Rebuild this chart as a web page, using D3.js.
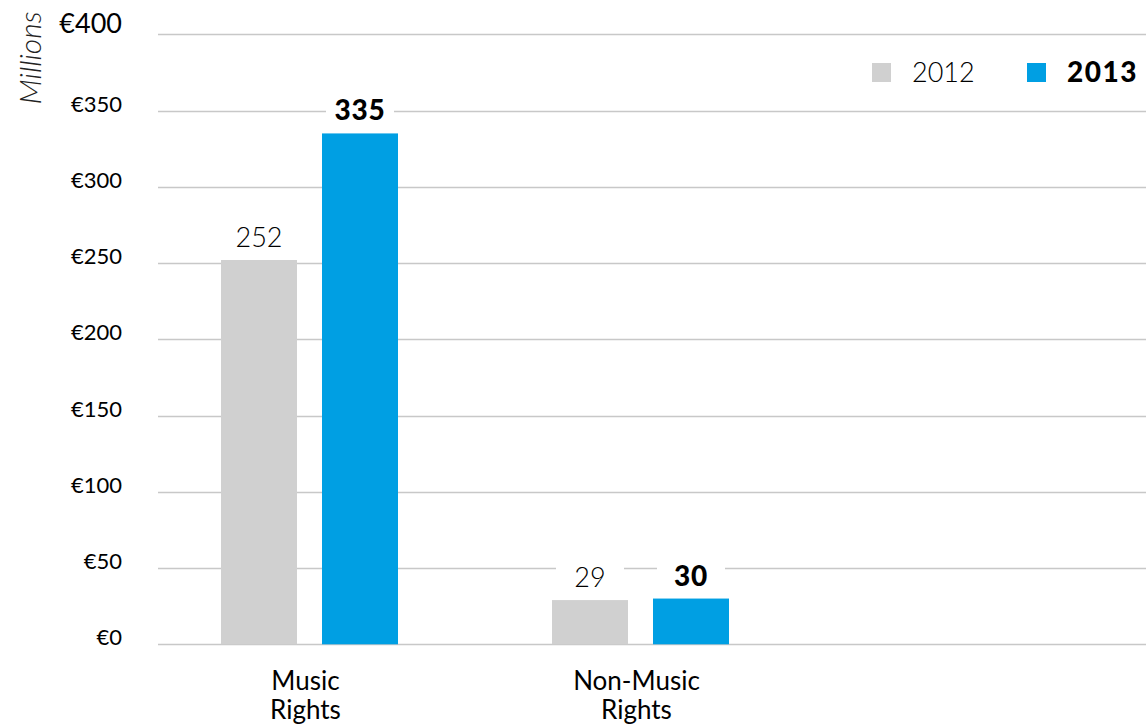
<!DOCTYPE html>
<html>
<head>
<meta charset="utf-8">
<script src="https://cdn.jsdelivr.net/npm/d3@7"></script>
<style>
  body { margin: 0; background: #fff; }
  svg { display: block; font-family: 'Lato', 'Noto Sans', sans-serif; }
</style>
</head>
<body>
<div id="chart"></div>
<script>
// data
const categories = [['Music', 'Rights'], ['Non-Music', 'Rights']];
const years = ['2012', '2013'];
const values2012 = [252, 29];
const values2013 = [335, 30];
const yTicks = [0, 50, 100, 150, 200, 250, 300, 350, 400];

const W = 1146, H = 726;
const MARGIN = { TOP: 34, BOTTOM: 82, LEFT: 158, RIGHT: 0 };
const COLORS = { '2012': '#d0d0d0', '2013': '#009fe3' };

const svg = d3.select('#chart').append('svg')
  .attr('width', W).attr('height', H);

const y = d3.scaleLinear().domain([0, 400]).range([H - MARGIN.BOTTOM + 0.3, MARGIN.TOP + 0.3]);

// categories sit in the left two thirds of the plot
const catKeys = categories.map(c => c.join(' '));
const x = d3.scaleBand().domain(catKeys).range([144, 806]);
const xInner = d3.scaleBand().domain(years).range([77, 254]).paddingInner(0.2475);

// grid
svg.append('g')
  .selectAll('line')
  .data(yTicks)
  .join('line')
  .attr('x1', MARGIN.LEFT).attr('x2', W)
  .attr('y1', d => Math.round(y(d)) + 0.5).attr('y2', d => Math.round(y(d)) + 0.5)
  .attr('stroke', '#c8c8c8').attr('stroke-width', 1.3);

// y tick labels (the top one is drawn larger)
svg.append('g')
  .selectAll('text')
  .data(yTicks)
  .join('text')
  .attr('x', 122)
  .attr('y', d => y(d) + (d === 400 ? -1 : 1))
  .attr('text-anchor', 'end')
  .attr('font-size', d => d === 400 ? 27 : 22)
  .attr('font-weight', 400)
  .attr('fill', '#000')
  .text(d => '€' + d);

svg.append('text')
  .attr('transform', 'translate(41,58) rotate(-90)')
  .attr('text-anchor', 'middle')
  .attr('font-size', 30)
  .attr('font-style', 'italic')
  .attr('font-weight', 300)
  .attr('fill', '#222')
  .text('Millions');

const rows = catKeys.map((k, i) => ({ key: k, vals: { '2012': values2012[i], '2013': values2013[i] } }));

const groups = svg.append('g')
  .selectAll('g')
  .data(rows)
  .join('g')
  .attr('transform', d => `translate(${x(d.key)},0)`);

groups.selectAll('rect')
  .data(d => years.map(yr => ({ yr, v: d.vals[yr] })))
  .join('rect')
  .attr('x', d => xInner(d.yr))
  .attr('width', xInner.bandwidth())
  .attr('y', d => y(d.v))
  .attr('height', d => y(0) - y(d.v))
  .attr('fill', d => COLORS[d.yr]);

// value labels with white backing so the grid breaks behind them
const labels = groups.selectAll('g.lbl')
  .data(d => years.map(yr => ({ yr, v: d.vals[yr] })))
  .join('g')
  .attr('class', 'lbl')
  .attr('transform', d => `translate(${xInner(d.yr) + xInner.bandwidth() / 2},${y(d.v) - 13})`);

labels.append('rect')
  .attr('x', -34).attr('width', 68)
  .attr('y', -24).attr('height', 26)
  .attr('fill', '#fff');

labels.append('text')
  .attr('text-anchor', 'middle')
  .attr('font-size', d => d.yr === '2013' ? 28 : 27)
  .attr('font-weight', d => d.yr === '2013' ? 900 : 300)
  .attr('letter-spacing', d => d.yr === '2013' ? 0.8 : 0)
  .attr('fill', '#000')
  .text(d => d.v);

// category labels
const cat = svg.append('g')
  .selectAll('text')
  .data(categories)
  .join('text')
  .attr('x', (d, i) => x(catKeys[i]) + x.bandwidth() / 2 - 4)
  .attr('y', 690)
  .attr('text-anchor', 'middle')
  .attr('font-size', 26)
  .attr('fill', '#000');
cat.selectAll('tspan')
  .data(d => d)
  .join('tspan')
  .attr('x', function () { return this.parentNode.getAttribute('x'); })
  .attr('dy', (d, i) => i === 0 ? 0 : 29)
  .text(d => d);

// legend
const legend = svg.append('g')
  .selectAll('g')
  .data(years)
  .join('g')
  .attr('transform', (d, i) => `translate(${872 + i * 155},63)`);
legend.append('rect')
  .attr('width', 19).attr('height', 19)
  .attr('fill', d => COLORS[d]);
legend.append('text')
  .attr('x', 40).attr('y', 19)
  .attr('font-size', d => d === '2013' ? 28 : 27)
  .attr('font-weight', d => d === '2013' ? 900 : 300)
  .attr('letter-spacing', d => d === '2013' ? 1.5 : 0)
  .attr('fill', '#000')
  .text(d => d);
</script>
</body>
</html>
